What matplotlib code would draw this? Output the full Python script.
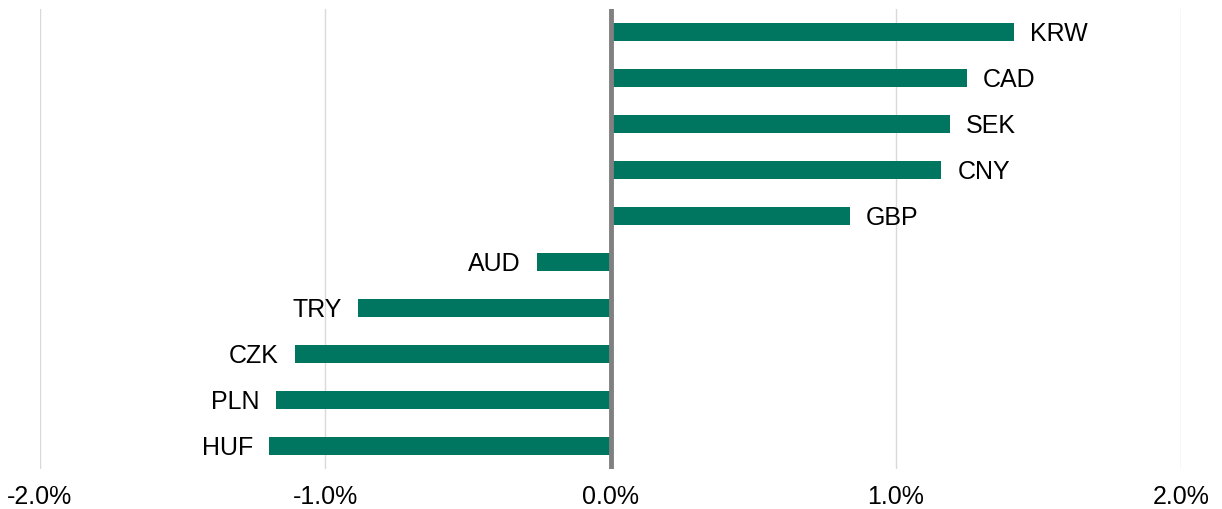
import matplotlib
matplotlib.use('Agg')
import matplotlib.pyplot as plt
import numpy as np

currencies = ['KRW', 'CAD', 'SEK', 'CNY', 'GBP', 'AUD', 'TRY', 'CZK', 'PLN', 'HUF']
changes = [1.416, 1.25, 1.19, 1.16, 0.84, -0.258, -0.885, -1.106, -1.173, -1.197]
tick_values = [-2.0, -1.0, 0.0, 1.0, 2.0]

plt.rcParams['font.family'] = ['Liberation Sans', 'DejaVu Sans']

fig = plt.figure(figsize=(12.22, 5.10), dpi=100)
ax = fig.add_axes([40 / 1222, 40 / 510, 1141 / 1222, 460 / 510])

y = np.arange(len(currencies))
ax.barh(y, changes, height=0.39, color='#007560', zorder=2)

for yi, val, name in zip(y, changes, currencies):
    if val >= 0:
        ax.text(val + 0.056, yi + 0.03, name, ha='left', va='center', fontsize=18)
    else:
        ax.text(val - 0.056, yi + 0.03, name, ha='right', va='center', fontsize=18)

ax.axvline(0, color='#808080', linewidth=3.5, zorder=3)
for t in tick_values:
    if t != 0:
        ax.axvline(t, color='#d9d9d9', linewidth=1, zorder=1)

ax.set_xlim(-2.0, 2.0)
ax.set_ylim(len(currencies) - 0.5, -0.5)
ax.set_xticks(tick_values)
ax.set_xticklabels(['%.1f%%' % t for t in tick_values], fontsize=18)
ax.set_yticks([])
ax.tick_params(axis='x', length=0, pad=11)
for s in ax.spines.values():
    s.set_visible(False)

plt.savefig('out.png', dpi=100)
plt.close()
